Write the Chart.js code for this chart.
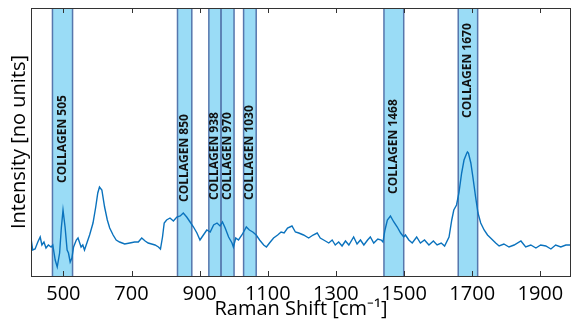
<!DOCTYPE html>
<html lang="en">
<head>
    <meta charset="UTF-8">
    <title>Raman spectrum</title>
    <style>
        body { margin: 0; background: #fff; }
    </style>
</head>
<body>
    <canvas id="ramanChart" width="571" height="322"></canvas>

    <script src="https://cdn.jsdelivr.net/npm/chart.js@4"></script>
    <script>
        // spectrum (shift in cm-1, intensity arbitrary)
        let shifts = [405, 410, 417, 425, 432, 437, 443, 449, 456, 464, 469, 476, 482, 489, 494, 499, 505, 511, 515, 520,
            525, 530, 538, 543, 548, 552, 557, 562, 570, 577, 587, 595, 601, 606, 613, 621, 629, 636, 646, 655,
            665, 680, 695, 709, 720, 730, 740, 749, 759, 769, 779, 785, 791, 796, 803, 813, 823, 833, 843, 852,
            862, 872, 882, 892, 901, 911, 921, 931, 941, 951, 960, 967, 975, 985, 995, 999, 1006, 1014, 1024, 1029,
            1037, 1046, 1056, 1066, 1076, 1088, 1096, 1105, 1117, 1129, 1139, 1148, 1158, 1171, 1181, 1191, 1205, 1220, 1233, 1245,
            1254, 1264, 1279, 1289, 1298, 1308, 1318, 1328, 1338, 1352, 1362, 1372, 1382, 1393, 1401, 1411, 1423, 1433, 1438, 1444,
            1451, 1460, 1470, 1480, 1490, 1499, 1504, 1514, 1524, 1537, 1548, 1560, 1573, 1586, 1597, 1609, 1619, 1632, 1640, 1646,
            1654, 1661, 1669, 1676, 1683, 1686, 1689, 1696, 1702, 1710, 1717, 1725, 1735, 1745, 1754, 1769, 1779, 1793, 1808, 1823,
            1843, 1857, 1872, 1887, 1901, 1916, 1931, 1945, 1960, 1975, 1990];
        let intensity = [38, 26, 27, 34, 39, 31, 34, 28, 31, 29, 31, 16, 9, 23, 48, 66, 49, 26, 23, 14,
            18, 29, 36, 38, 33, 29, 31, 26, 34, 41, 53, 69, 83, 89, 86, 69, 56, 48, 41, 36,
            34, 32, 33, 34, 34, 38, 35, 33, 32, 31, 29, 27, 39, 53, 56, 58, 55, 59, 60, 63,
            59, 54, 49, 43, 36, 41, 46, 44, 51, 53, 50, 54, 48, 39, 33, 29, 38, 36, 41, 44,
            49, 46, 44, 41, 36, 31, 29, 33, 38, 41, 44, 43, 48, 50, 44, 43, 41, 38, 41, 43,
            38, 36, 33, 36, 31, 34, 30, 35, 31, 39, 32, 36, 31, 36, 39, 33, 37, 36, 34, 46,
            56, 60, 54, 49, 43, 39, 41, 36, 33, 39, 33, 36, 31, 35, 31, 33, 30, 39, 56, 66,
            71, 83, 103, 116, 122, 124, 123, 113, 99, 79, 63, 53, 46, 41, 38, 33, 30, 32, 29, 31,
            35, 29, 31, 28, 31, 30, 27, 31, 29, 31, 31];

        // highlighted collagen bands (cm-1) and where their labels start (intensity units)
        let bandNames = ['COLLAGEN 505', 'COLLAGEN 850', 'COLLAGEN 938', 'COLLAGEN 970', 'COLLAGEN 1030', 'COLLAGEN 1468', 'COLLAGEN 1670'];
        let bandStart = [468, 835, 927, 963, 1029, 1441, 1659];
        let bandEnd = [527, 877, 963, 1001, 1066, 1499, 1716];
        let labelAt = [93, 74, 76, 76, 76, 82, 158];

        let xTicks = [500, 700, 900, 1100, 1300, 1500, 1700, 1900];

        Chart.defaults.font.family = "'Open Sans', sans-serif";
        Chart.defaults.color = '#000';

        const bandsPlugin = {
            id: 'bands',
            beforeDatasetsDraw(chart) {
                const {ctx, chartArea, scales: {x, y}} = chart;
                ctx.save();
                ctx.beginPath();
                ctx.rect(chartArea.left, chartArea.top, chartArea.right - chartArea.left, chartArea.bottom - chartArea.top);
                ctx.clip();
                bandNames.forEach((name, i) => {
                    const x1 = x.getPixelForValue(bandStart[i]);
                    const x2 = x.getPixelForValue(bandEnd[i]);
                    ctx.fillStyle = '#9adcf6';
                    ctx.fillRect(x1, chartArea.top, x2 - x1, chartArea.bottom - chartArea.top);
                    ctx.strokeStyle = '#5677ad';
                    ctx.lineWidth = 1.5;
                    ctx.beginPath();
                    ctx.moveTo(x1, chartArea.top); ctx.lineTo(x1, chartArea.bottom);
                    ctx.moveTo(x2, chartArea.top); ctx.lineTo(x2, chartArea.bottom);
                    ctx.stroke();
                });
                // labels
                ctx.fillStyle = '#111';
                ctx.font = "bold 12px 'Open Sans', sans-serif";
                ctx.textAlign = 'left';
                ctx.textBaseline = 'middle';
                bandNames.forEach((name, i) => {
                    const cx = (x.getPixelForValue(bandStart[i]) + x.getPixelForValue(bandEnd[i])) / 2;
                    ctx.save();
                    ctx.translate(cx, y.getPixelForValue(labelAt[i]));
                    ctx.rotate(-Math.PI / 2);
                    ctx.fillText(name, 0, 0);
                    ctx.restore();
                });
                ctx.restore();
            },
            afterDraw(chart) {
                // box + inward ticks on top and bottom
                const {ctx, chartArea, scales: {x}} = chart;
                ctx.save();
                ctx.strokeStyle = '#333';
                ctx.lineWidth = 1;
                ctx.strokeRect(chartArea.left + 0.5, chartArea.top + 0.5, chartArea.right - chartArea.left - 1, chartArea.bottom - chartArea.top);
                ctx.beginPath();
                xTicks.forEach(t => {
                    const px = Math.round(x.getPixelForValue(t)) + 0.5;
                    ctx.moveTo(px, chartArea.top); ctx.lineTo(px, chartArea.top + 5);
                    ctx.moveTo(px, chartArea.bottom); ctx.lineTo(px, chartArea.bottom - 5);
                });
                ctx.stroke();
                ctx.restore();
            }
        };

        var ctx = document.getElementById('ramanChart').getContext('2d');
        var ramanChart = new Chart(ctx, {
            type: 'line',
            data: {
                datasets: [{
                    data: shifts.map((s, i) => ({x: s, y: intensity[i]})),
                    borderColor: '#0a72bd',
                    borderWidth: 1.4,
                    pointRadius: 0,
                    tension: 0,
                    fill: false
                }]
            },
            options: {
                responsive: false,
                animation: false,
                layout: {padding: {top: 8, right: 0, left: 0, bottom: 0}},
                plugins: {legend: {display: false}, tooltip: {enabled: false}},
                scales: {
                    x: {
                        type: 'linear',
                        min: 405,
                        max: 1990,
                        afterBuildTicks: (scale) => { scale.ticks = xTicks.map(v => ({value: v})); },
                        afterFit: (scale) => { scale.height = 46; },
                        grid: {display: false},
                        border: {display: false},
                        ticks: {font: {size: 20, lineHeight: 1}, padding: 0, maxRotation: 0, autoSkip: false,
                            callback: (v) => String(v)},
                        title: {display: true, text: 'Raman Shift [cm\u207B\u00B9]', font: {size: 20}, padding: {top: 0, bottom: 1}}
                    },
                    y: {
                        min: 0,
                        max: 268,
                        afterFit: (scale) => { scale.width = 31; },
                        grid: {display: false},
                        border: {display: false},
                        ticks: {display: false},
                        title: {display: true, text: 'Intensity [no units]', font: {size: 20}, padding: {top: 7, bottom: 0}}
                    }
                }
            },
            plugins: [bandsPlugin]
        });
    </script>
</body>
</html>
